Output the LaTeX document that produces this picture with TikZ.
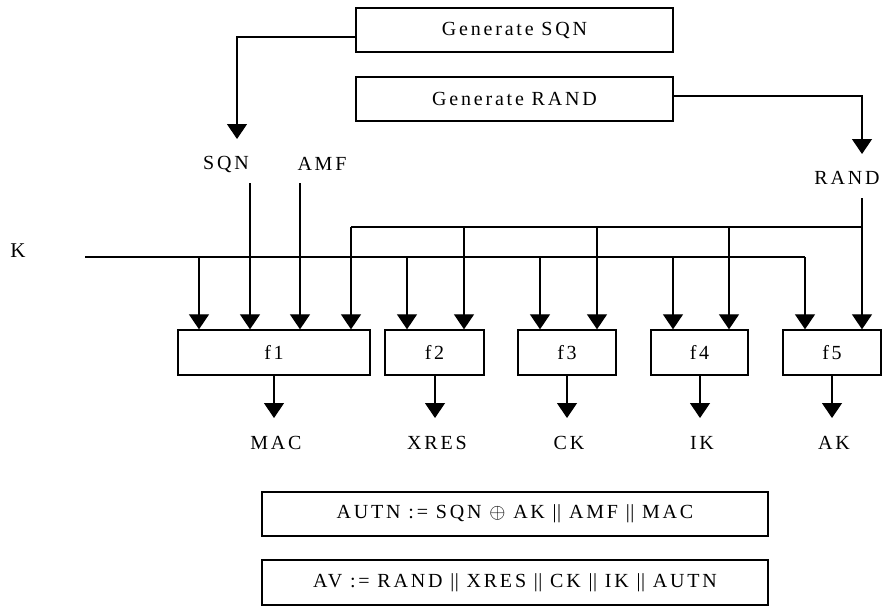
\documentclass[tikz,border=0pt]{standalone}
\usepackage{fontspec}
\setmainfont{Liberation Serif}
\usetikzlibrary{arrows.meta}
\newcommand{\dbar}{\mbox{\addfontfeature{LetterSpace=0}|\kern0.5pt|}}
\begin{document}
\begin{tikzpicture}[x=1pt,y=-1pt,
  font=\fontsize{20}{24}\selectfont\addfontfeature{LetterSpace=14},
  line width=1.3pt,
  box/.style={draw,line width=1.4pt,minimum height=44pt,inner sep=0pt},
  arr/.style={-{Triangle[width=20pt,length=15pt]}},
  lab/.style={inner sep=0pt}]
\useasboundingbox (0,0) rectangle (885,606);

% generators
\node[box,minimum width=317pt] (gsqn) at (514.5,30) {Generate SQN};
\node[box,minimum width=317pt] (grand) at (514.5,99) {Generate RAND};

% labels
\node[lab] (sqnl) at (226,164) {SQN};
\node[lab] (amfl) at (322,164) {AMF};
\node[lab] (randl) at (847,178) {RAND};
\node[lab,font=\fontsize{21}{24}\selectfont] (kl) at (18,251) {K};

% functions
\node[box,minimum width=192pt,minimum height=45pt] (f1) at (274,352.5) {f1};
\node[box,minimum width=99pt,minimum height=45pt] (f2) at (434.5,352.5) {f2};
\node[box,minimum width=98pt,minimum height=45pt] (f3) at (567,352.5) {f3};
\node[box,minimum width=97pt,minimum height=45pt] (f4) at (699.5,352.5) {f4};
\node[box,minimum width=98pt,minimum height=45pt] (f5) at (832,352.5) {f5};

% outputs
\node[lab] (mac) at (276,443) {MAC};
\node[lab] (xres) at (437,443) {XRES};
\node[lab] (ck) at (569,443) {CK};
\node[lab] (ik) at (702,443) {IK};
\node[lab] (ak) at (834,443) {AK};

% formulas
\node[box,minimum width=506pt] (autn) at (515,514) {AUTN := SQN $\oplus$ AK \dbar{} AMF \dbar{} MAC};
\node[box,minimum width=506pt,minimum height=45pt] (av) at (515,582.5) {AV := RAND \dbar{} XRES \dbar{} CK \dbar{} IK \dbar{} AUTN};

% coordinates
\coordinate (sqnbend) at (237,37);
\coordinate (sqntip) at (237,139);
\coordinate (randbend) at (862,96);
\coordinate (randtip) at (862,154);
\coordinate (sqntop) at (250,183);
\coordinate (amftop) at (300,183);
\coordinate (randtop) at (862,198);
\coordinate (kstart) at (85,257);
\coordinate (kend) at (805,257);
\coordinate (rstart) at (351,227);
\coordinate (rend) at (862,227);
\coordinate (k1) at (199,257);
\coordinate (k2) at (407,257);
\coordinate (k3) at (540,257);
\coordinate (k4) at (673,257);
\coordinate (r2) at (464,227);
\coordinate (r3) at (597,227);
\coordinate (r4) at (729,227);
\coordinate (o1) at (274,418);
\coordinate (o2) at (435,418);
\coordinate (o3) at (567,418);
\coordinate (o4) at (700,418);
\coordinate (o5) at (832,418);

% generator outputs
\draw[arr] ([yshift=-7pt]gsqn.west) -- (sqnbend) -- (sqntip);
\draw[arr] ([yshift=3pt]grand.east) -- (randbend) -- (randtip);

% SQN, AMF into f1
\draw[arr] (sqntop) -- (sqntop |- f1.north);
\draw[arr] (amftop) -- (amftop |- f1.north);

% K bus
\draw (kstart) -- (kend);
\draw[arr] (k1) -- (k1 |- f1.north);
\draw[arr] (k2) -- (k2 |- f2.north);
\draw[arr] (k3) -- (k3 |- f3.north);
\draw[arr] (k4) -- (k4 |- f4.north);
\draw[arr] (kend) -- (kend |- f5.north);

% RAND bus
\draw (rstart) -- (rend);
\draw[arr] (randtop) -- (randtop |- f5.north);
\draw[arr] (rstart) -- (rstart |- f1.north);
\draw[arr] (r2) -- (r2 |- f2.north);
\draw[arr] (r3) -- (r3 |- f3.north);
\draw[arr] (r4) -- (r4 |- f4.north);

% outputs
\draw[arr] (f1.south -| o1) -- (o1);
\draw[arr] (f2.south -| o2) -- (o2);
\draw[arr] (f3.south -| o3) -- (o3);
\draw[arr] (f4.south -| o4) -- (o4);
\draw[arr] (f5.south -| o5) -- (o5);
\end{tikzpicture}
\end{document}
